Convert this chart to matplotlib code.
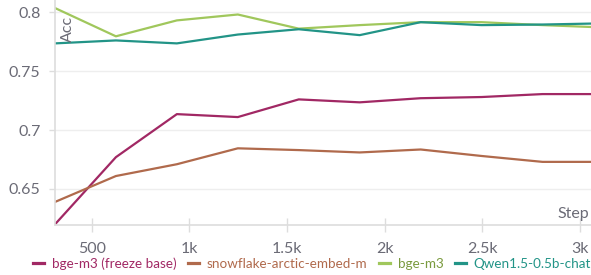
import numpy as np
import matplotlib
matplotlib.use("Agg")
import matplotlib.pyplot as plt

plt.rcParams['font.family'] = ['Lato', 'DejaVu Sans']

steps = [312, 624, 936, 1248, 1560, 1872, 2184, 2496, 2808, 3120]
freeze_base = [0.620, 0.677, 0.7135, 0.711, 0.726, 0.7235, 0.727, 0.728, 0.7305, 0.7305]
snowflake = [0.639, 0.661, 0.671, 0.6845, 0.683, 0.681, 0.6835, 0.678, 0.673, 0.673]
bge_m3 = [0.8035, 0.7795, 0.793, 0.798, 0.786, 0.789, 0.7915, 0.7915, 0.789, 0.787]
qwen = [0.7735, 0.776, 0.7735, 0.781, 0.7855, 0.7805, 0.7915, 0.789, 0.7895, 0.7905]

# name, values, line colour, legend text colour
series = [
    ("bge-m3 (freeze base)", freeze_base, "#A12864", "#A12864"),
    ("snowflake-arctic-embed-m", snowflake, "#B06A4C", "#B06A4C"),
    ("bge-m3", bge_m3, "#A0C75C", "#7A9A3E"),
    ("Qwen1.5-0.5b-chat", qwen, "#229487", "#229487"),
]

fig = plt.figure(figsize=(5.91, 2.75), dpi=100)
ax = fig.add_axes([0.093, 0.182, 0.907, 0.818])

for name, vals, col, _ in series:
    ax.plot(steps, vals, color=col, lw=1.6, label=name, solid_joinstyle='round')

ax.set_xlim(312, 3056)
ax.set_ylim(0.6195, 0.8103)
ax.set_yticks([0.65, 0.7, 0.75, 0.8])
ax.set_yticklabels(["0.65", "0.7", "0.75", "0.8"])
ax.set_xticks([500, 1000, 1500, 2000, 2500, 3000])
ax.set_xticklabels(["500", "1k", "1.5k", "2k", "2.5k", "3k"])

ax.grid(axis='y', color='#eeeeee', lw=1)
ax.set_axisbelow(True)
for s in ['top', 'right']:
    ax.spines[s].set_visible(False)
for s in ['left', 'bottom']:
    ax.spines[s].set_color('#dddddd')
    ax.spines[s].set_linewidth(1.2)
ax.tick_params(axis='both', colors='#dddddd', labelcolor='#6b6b76', labelsize=11.5)
ax.tick_params(axis='y', length=4.5, width=1, pad=6)
ax.tick_params(axis='x', length=10, width=1, direction='inout', pad=7)

ax.text(0.012, 0.93, "Acc", transform=ax.transAxes, rotation=90, ha='left', va='top',
        fontsize=11.5, color='#6b6b76')
ax.text(0.938, 0.031, "Step", transform=ax.transAxes, ha='left', va='baseline',
        fontsize=11.5, color='#6b6b76')

leg = fig.legend(loc='lower center', bbox_to_anchor=(0.528, -0.025), ncol=4, frameon=False,
                 fontsize=9.7, handlelength=0.85, handletextpad=0.55, columnspacing=0.85)
for txt, s in zip(leg.get_texts(), series):
    txt.set_color(s[3])
for h in leg.get_lines():
    h.set_linewidth(2.3)

fig.savefig("out.png", dpi=100)
